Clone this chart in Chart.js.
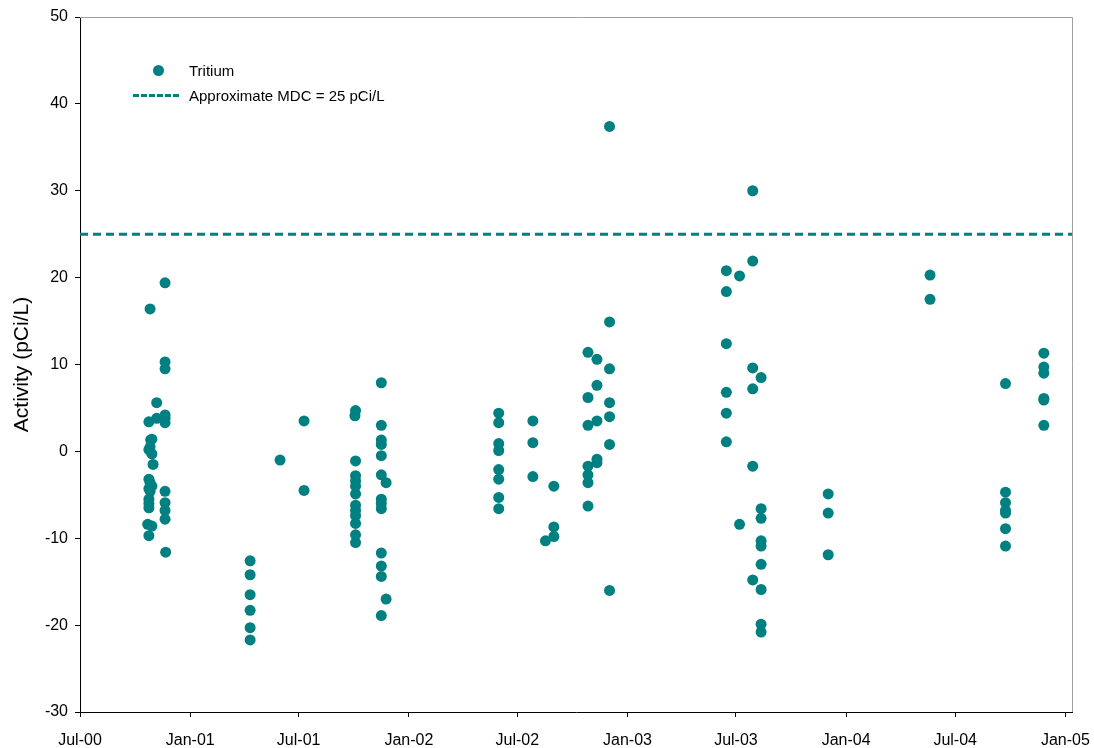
<!DOCTYPE html>
<html>
<head>
<meta charset="utf-8">
<script src="https://cdn.jsdelivr.net/npm/chart.js@4.4.1/dist/chart.umd.min.js"></script>
<style>
  html, body { margin: 0; padding: 0; background: #fff; }
  #wrap { position: relative; width: 1094px; height: 748px; }
  #legend { position: absolute; left: 130px; top: 58px; font: 15px "Liberation Sans", Arial, sans-serif; color: #000; }
  #legend .row { position: relative; height: 25px; line-height: 25px; padding-left: 59px; white-space: nowrap; }
  #legend .dot { position: absolute; left: 23px; top: 7px; width: 11px; height: 11px; border-radius: 50%; background: #008080; }
  #legend .dash { position: absolute; left: 3px; top: 11px; width: 46px; height: 0; border-top: 3px dashed #008080; }
</style>
</head>
<body>
<div id="wrap">
  <canvas id="chart" width="1094" height="748"></canvas>
  <div id="legend">
    <div class="row"><span class="dot"></span>Tritium</div>
    <div class="row"><span class="dash"></span>Approximate MDC = 25 pCi/L</div>
  </div>
</div>
<script>
// axis ticks
const tickDates = ["2000-07-01", "2001-01-01", "2001-07-01", "2002-01-01", "2002-07-01",
  "2003-01-01", "2003-07-01", "2004-01-01", "2004-07-01", "2005-01-01"];
const tickLabels = ["Jul-00", "Jan-01", "Jul-01", "Jan-02", "Jul-02",
  "Jan-03", "Jul-03", "Jan-04", "Jul-04", "Jan-05"];
const axisEnd = "2005-01-12";

// sample dates and tritium results (pCi/L)
const sampleDates = [
  "2000-10-26", "2000-10-24", "2000-10-29", "2000-10-27", "2000-10-26", "2000-10-24", "2000-10-29", "2000-10-31",
  "2000-10-24", "2000-10-26", "2000-10-29", "2000-10-24", "2000-10-26", "2000-10-24", "2000-10-24", "2000-10-24",
  "2000-10-22", "2000-10-29", "2000-10-24", "2000-11-06", "2000-11-06",
  "2000-11-20", "2000-11-20", "2000-11-20", "2000-11-20", "2000-11-20", "2000-11-20", "2000-11-20", "2000-11-20",
  "2000-11-20", "2000-11-20", "2000-11-21",
  "2001-04-11", "2001-04-11", "2001-04-11", "2001-04-11", "2001-04-11", "2001-04-11",
  "2001-05-31", "2001-07-10", "2001-07-10",
  "2001-10-04", "2001-10-03", "2001-10-04", "2001-10-04", "2001-10-04", "2001-10-04", "2001-10-04", "2001-10-04",
  "2001-10-04", "2001-10-04", "2001-10-04", "2001-10-04", "2001-10-04",
  "2001-11-16", "2001-11-16", "2001-11-16", "2001-11-16", "2001-11-16", "2001-11-16", "2001-11-16", "2001-11-16",
  "2001-11-16", "2001-11-16", "2001-11-16", "2001-11-16", "2001-11-16", "2001-11-24", "2001-11-24",
  "2002-05-31", "2002-05-31", "2002-05-31", "2002-05-31", "2002-05-31", "2002-05-31", "2002-05-31", "2002-05-31",
  "2002-07-27", "2002-07-27", "2002-07-27", "2002-08-17", "2002-08-31", "2002-08-31", "2002-08-31",
  "2002-10-27", "2002-10-27", "2002-10-27", "2002-10-27", "2002-10-27", "2002-10-27", "2002-10-27",
  "2002-11-11", "2002-11-11", "2002-11-11", "2002-11-11", "2002-11-11",
  "2002-12-02", "2002-12-02", "2002-12-02", "2002-12-02", "2002-12-02", "2002-12-02", "2002-12-02",
  "2003-06-15", "2003-06-15", "2003-06-15", "2003-06-15", "2003-06-15", "2003-06-15",
  "2003-07-07", "2003-07-07",
  "2003-07-29", "2003-07-29", "2003-07-29", "2003-07-29", "2003-07-29", "2003-07-29",
  "2003-08-12", "2003-08-12", "2003-08-12", "2003-08-12", "2003-08-12", "2003-08-12", "2003-08-12", "2003-08-12",
  "2003-08-12",
  "2003-12-02", "2003-12-02", "2003-12-02",
  "2004-05-20", "2004-05-20",
  "2004-09-23", "2004-09-23", "2004-09-23", "2004-09-23", "2004-09-23", "2004-09-23", "2004-09-23",
  "2004-11-26", "2004-11-26", "2004-11-26", "2004-11-26", "2004-11-26", "2004-11-26"
];
const tritium = [
  16.4, 3.4, 1.4, 1.3, 0.5, 0.2, -0.3, -1.5,
  -3.2, -3.6, -4.0, -4.3, -4.6, -5.5, -6.0, -6.5,
  -8.4, -8.6, -9.7, 5.6, 3.8,
  19.4, 10.3, 9.5, 4.2, 3.8, 3.3, -4.6, -5.9,
  -6.8, -7.8, -11.6,
  -12.6, -14.2, -16.5, -18.3, -20.3, -21.7,
  -1.0, 3.5, -4.5,
  4.7, 4.1, -1.1, -2.8, -3.4, -4.0, -4.9, -6.2,
  -6.8, -7.4, -8.3, -9.6, -10.5,
  7.9, 3.0, 1.3, 0.8, -0.5, -2.7, -5.5, -6.0,
  -6.6, -11.7, -13.2, -14.4, -18.9, -3.6, -17.0,
  4.4, 3.3, 0.9, 0.1, -2.1, -3.2, -5.3, -6.6,
  3.5, 1.0, -2.9, -10.3, -4.0, -8.7, -9.8,
  11.4, 6.2, 3.0, -1.7, -2.7, -3.6, -6.3,
  10.6, 7.6, 3.5, -0.9, -1.3,
  37.4, 14.9, 9.5, 5.6, 4.0, 0.8, -16.0,
  20.8, 18.4, 12.4, 6.8, 4.4, 1.1,
  20.2, -8.4,
  30.0, 21.9, 9.6, 7.2, -1.7, -14.8,
  8.5, -6.6, -7.7, -10.3, -10.9, -13.0, -15.9, -19.9,
  -20.8,
  -4.9, -7.1, -11.9,
  20.3, 17.5,
  7.8, -4.7, -5.9, -6.8, -7.1, -8.9, -10.9,
  11.3, 9.7, 9.0, 6.1, 5.9, 3.0
];
const mdcLevel = 25;

const teal = "#008080";
const day0 = Date.parse(tickDates[0]);
const toDays = s => (Date.parse(s) - day0) / 86400000;

const tickDays = tickDates.map(toDays);
const xMax = toDays(axisEnd);
const points = sampleDates.map((d, i) => ({ x: toDays(d), y: tritium[i] }));

// top and right frame of the plot area
const frame = {
  id: "frame",
  afterDraw(chart) {
    const { ctx, chartArea: a } = chart;
    ctx.save();
    ctx.strokeStyle = "#a0a0a0";
    ctx.lineWidth = 1;
    ctx.beginPath();
    ctx.moveTo(a.left, a.top + 0.5);
    ctx.lineTo(a.right + 0.5, a.top + 0.5);
    ctx.lineTo(a.right + 0.5, a.bottom);
    ctx.stroke();
    ctx.restore();
  }
};

const font = { family: "'Liberation Sans', Arial, sans-serif", size: 16 };

new Chart(document.getElementById("chart"), {
  type: "scatter",
  data: {
    datasets: [
      {
        label: "Tritium",
        data: points,
        backgroundColor: teal,
        borderColor: teal,
        pointRadius: 5.5,
        pointHoverRadius: 5.5,
        borderWidth: 0
      },
      {
        label: "Approximate MDC = 25 pCi/L",
        type: "line",
        data: [{ x: 0, y: mdcLevel }, { x: xMax, y: mdcLevel }],
        borderColor: teal,
        borderWidth: 3,
        borderDash: [8, 5],
        pointRadius: 0,
        fill: false
      }
    ]
  },
  options: {
    responsive: false,
    animation: false,
    layout: { padding: { top: 17, right: 22, left: 0, bottom: 0 } },
    plugins: { legend: { display: false }, tooltip: { enabled: false } },
    scales: {
      x: {
        type: "linear",
        min: 0,
        max: xMax,
        afterBuildTicks: s => { s.ticks = tickDays.map(v => ({ value: v })); },
        afterFit: s => { s.height = 36; s.paddingLeft = 0; s.paddingRight = 0; },
        grid: { drawOnChartArea: false, drawTicks: true, tickLength: 5, color: "#000" },
        border: { color: "#000", width: 1 },
        ticks: {
          color: "#000",
          font: font,
          padding: 14,
          maxRotation: 0,
          autoSkip: false,
          callback: (v) => tickLabels[tickDays.indexOf(v)] || ""
        }
      },
      y: {
        min: -30,
        max: 50,
        afterFit: s => { s.width = 80; s.paddingTop = 0; s.paddingBottom = 0; },
        grid: { drawOnChartArea: false, drawTicks: true, tickLength: 5, color: "#000" },
        border: { color: "#000", width: 1 },
        ticks: { stepSize: 10, color: "#000", font: font, padding: 7 },
        title: {
          display: true,
          text: "Activity (pCi/L)",
          color: "#000",
          font: { family: font.family, size: 21 },
          padding: { top: 10, bottom: 4 }
        }
      }
    }
  },
  plugins: [frame]
});
</script>
</body>
</html>
